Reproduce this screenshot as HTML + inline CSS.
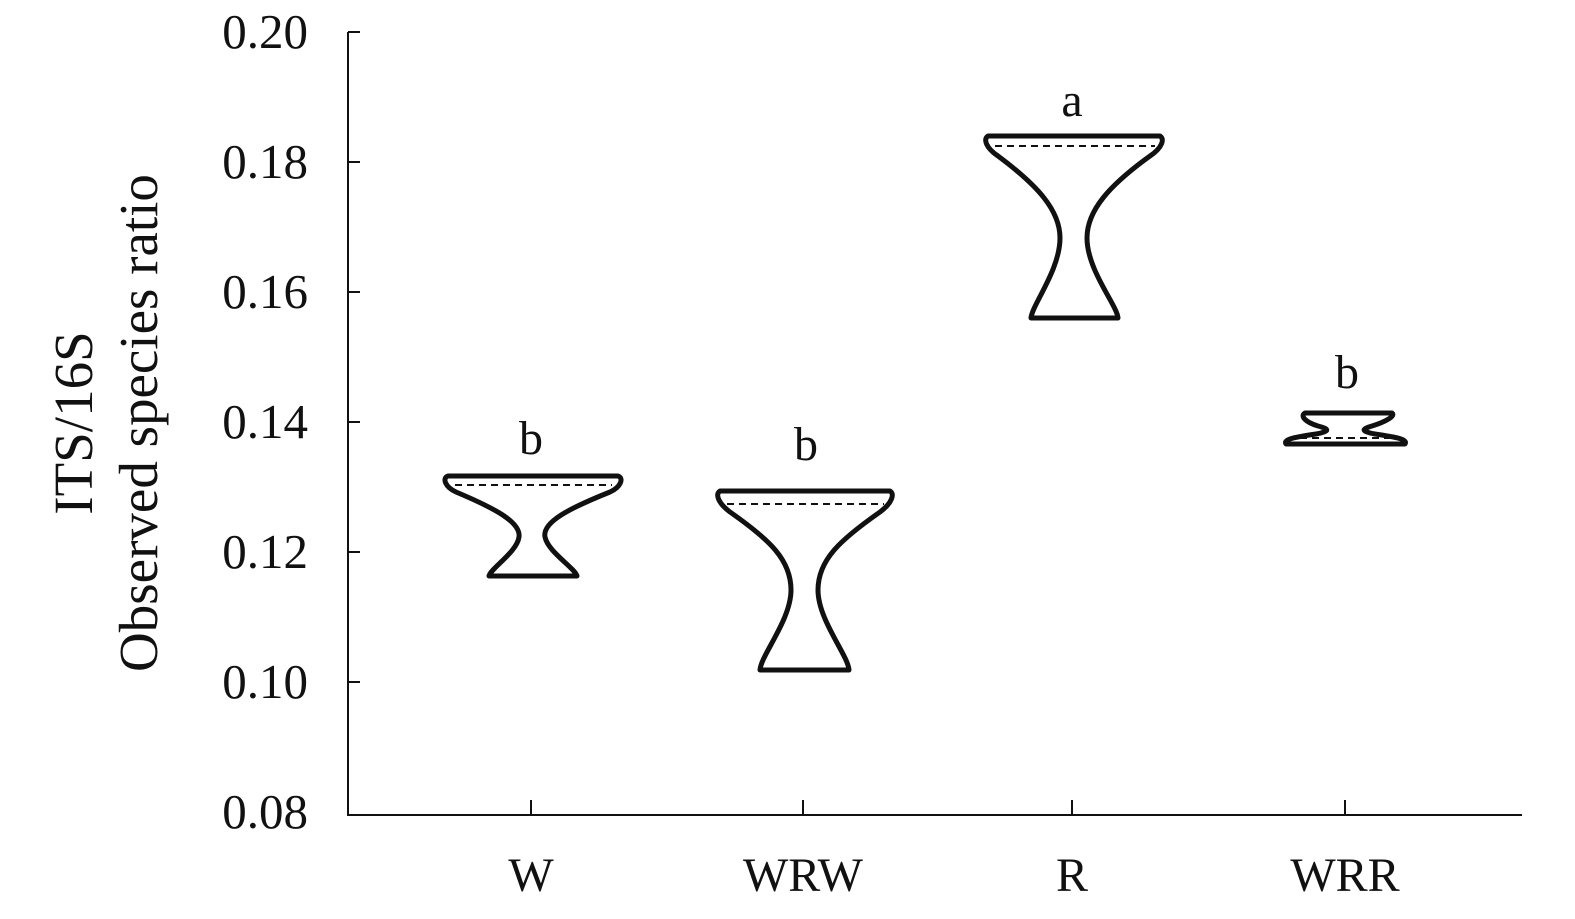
<!DOCTYPE html>
<html><head><meta charset="utf-8"><style>
html,body{margin:0;padding:0;background:#fff;}
svg text{font-family:"Liberation Serif",serif;fill:#111;}
</style></head><body>
<svg width="1575" height="914" viewBox="0 0 1575 914" xmlns="http://www.w3.org/2000/svg">
<g stroke="#111" stroke-width="2" fill="none">
<line x1="348" y1="32" x2="348" y2="815"/>
<line x1="347" y1="815" x2="1522" y2="815"/>
<line x1="348" y1="32" x2="360" y2="32"/>
<line x1="348" y1="162" x2="360" y2="162"/>
<line x1="348" y1="292" x2="360" y2="292"/>
<line x1="348" y1="422" x2="360" y2="422"/>
<line x1="348" y1="552" x2="360" y2="552"/>
<line x1="348" y1="682" x2="360" y2="682"/>
<line x1="531" y1="800" x2="531" y2="815"/>
<line x1="803" y1="800" x2="803" y2="815"/>
<line x1="1072" y1="800" x2="1072" y2="815"/>
<line x1="1345" y1="800" x2="1345" y2="815"/>
</g>
<g font-size="49" text-anchor="end">
<text x="308" y="48">0.20</text>
<text x="308" y="178">0.18</text>
<text x="308" y="308">0.16</text>
<text x="308" y="438">0.14</text>
<text x="308" y="568">0.12</text>
<text x="308" y="698">0.10</text>
<text x="308" y="828">0.08</text>
</g>
<g font-size="48" text-anchor="middle">
<text x="531" y="891">W</text>
<text x="803" y="891">WRW</text>
<text x="1072" y="891">R</text>
<text x="1345" y="891">WRR</text>
<text x="531" y="454">b</text>
<text x="806" y="460">b</text>
<text x="1072" y="116">a</text>
<text x="1347" y="388">b</text>
</g>
<text font-size="55" text-anchor="middle" transform="translate(92,423) rotate(-90)">ITS/16S</text>
<text font-size="55" text-anchor="middle" transform="translate(157,423) rotate(-90)">Observed species ratio</text>
<g stroke="#111" stroke-width="5" fill="none" stroke-linejoin="round">
<path d="M448,476 L618,476 C624,478 621,487 610,492 C570,508 542,522 545,537 C548,552 575,568 577,576 L489,576 C491,568 517,552 519,537 C521,522 494,508 456,492 C445,487 442,478 448,476 Z"/>
<path d="M720,491 L890,491 C895,494 892,503 880,512 C840,540 818,560 818,590 C818,620 848,655 849,670 L760,670 C761,655 791,620 791,590 C791,560 770,540 730,512 C718,503 715,494 720,491 Z"/>
<path d="M988,136 L1160,136 C1165,139 1162,148 1150,156 C1110,185 1087,210 1087,238 C1087,270 1117,305 1118,318 L1031,318 C1032,305 1060,270 1060,238 C1060,210 1037,185 998,156 C986,148 983,139 988,136 Z"/>
<path d="M1305,413 L1392,413 C1396,416 1385,422 1372,426 C1362,429 1360,431 1375,434 C1395,437 1408,439 1405,444 L1286,444 C1283,439 1296,437 1316,434 C1331,431 1329,429 1318,426 C1305,422 1300,416 1305,413 Z"/>
</g>
<g stroke="#111" stroke-width="2" stroke-dasharray="7,5" fill="none">
<line x1="455" y1="485" x2="612" y2="485"/>
<line x1="727" y1="504" x2="884" y2="504"/>
<line x1="995" y1="146" x2="1155" y2="146"/>
<line x1="1300" y1="438" x2="1395" y2="438"/>
</g>
</svg>
</body></html>
